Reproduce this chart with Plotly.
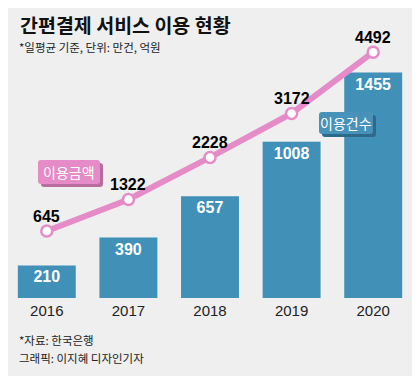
import plotly.graph_objects as go

years = ['2016', '2017', '2018', '2019', '2020']
counts = [210, 390, 657, 1008, 1455]        # 이용건수 (만건)
amounts = [645, 1322, 2228, 3172, 4492]     # 이용금액 (억원)

W, H = 420, 376
OFF = 8                      # page offset observed in the renderer
ML, MR, MT, MB = 0, 14, 40 - OFF, 78 + OFF
PW, PH = W - ML - MR, H - MT - MB
CAT = 81.6                   # pixel width of one category
X0 = 46.8 - OFF              # pixel centre of the first category inside the plot area

BAR = '#4090b8'
PINK = '#e58bc8'
BG = '#efefef'
NUM_FONT = 'Liberation Sans Narrow, Liberation Sans, Arial, sans-serif'
KR_FONT = 'Noto Sans CJK KR, Noto Sans, sans-serif'


def px(x):
    return (x - OFF - ML) / PW


def py(y):
    return (H - MB - (y - OFF)) / PH


def rrect(x0, y0, x1, y1, r):
    X = lambda v: px(v)
    Y = lambda v: py(v)
    return (f"M {X(x0+r)},{Y(y0)} L {X(x1-r)},{Y(y0)} Q {X(x1)},{Y(y0)} {X(x1)},{Y(y0+r)} "
            f"L {X(x1)},{Y(y1-r)} Q {X(x1)},{Y(y1)} {X(x1-r)},{Y(y1)} "
            f"L {X(x0+r)},{Y(y1)} Q {X(x0)},{Y(y1)} {X(x0)},{Y(y1-r)} "
            f"L {X(x0)},{Y(y0+r)} Q {X(x0)},{Y(y0)} {X(x0+r)},{Y(y0)} Z")


fig = go.Figure()
fig.add_trace(go.Bar(
    x=years, y=counts, marker=dict(color=BAR, line=dict(width=0)),
    text=[str(v) for v in counts], textposition='inside', insidetextanchor='end',
    textangle=0,
    textfont=dict(color='white', size=16, family=NUM_FONT, weight='bold'),
    hoverinfo='skip', cliponaxis=False,
))
fig.add_trace(go.Scatter(
    x=years, y=amounts, yaxis='y2', mode='lines+markers',
    line=dict(color=PINK, width=6),
    marker=dict(size=11, color='white', line=dict(color=PINK, width=2.5)),
    hoverinfo='skip', cliponaxis=False,
))

shapes = [
    dict(type='path', xref='paper', yref='paper', path=rrect(41, 163, 103, 187, 3),
         fillcolor='#b86c9f', line=dict(width=0), layer='above'),
    dict(type='path', xref='paper', yref='paper', path=rrect(38, 160, 100, 184, 3),
         fillcolor=PINK, line=dict(width=0), layer='above'),
    dict(type='path', xref='paper', yref='paper', path=rrect(322, 115, 376, 137, 3),
         fillcolor='#2d6a8a', line=dict(width=0), layer='above'),
    dict(type='path', xref='paper', yref='paper', path=rrect(319, 112, 373, 134, 3),
         fillcolor='#4892ba', line=dict(width=0), layer='above'),
]

annotations = [
    dict(text='<b>간편결제 서비스 이용 현황</b>', x=px(18), y=py(25), xref='paper', yref='paper',
         xanchor='left', yanchor='middle', showarrow=False,
         font=dict(size=19.5, color='#111', family=KR_FONT)),
    dict(text='*일평균 기준, 단위: 만건, 억원', x=px(17), y=py(47), xref='paper', yref='paper',
         xanchor='left', yanchor='middle', showarrow=False,
         font=dict(size=11.5, color='#222', family=KR_FONT)),
    dict(text='*자료: 한국은행', x=px(17), y=py(340), xref='paper', yref='paper',
         xanchor='left', yanchor='middle', showarrow=False,
         font=dict(size=11.5, color='#222', family=KR_FONT)),
    dict(text='그래픽: 이지혜 디자인기자', x=px(17), y=py(358), xref='paper', yref='paper',
         xanchor='left', yanchor='middle', showarrow=False,
         font=dict(size=11.5, color='#222', family=KR_FONT)),
    dict(text='이용금액', x=px(69), y=py(172), xref='paper', yref='paper',
         xanchor='center', yanchor='middle', showarrow=False,
         font=dict(size=14, color='white', family=KR_FONT)),
    dict(text='이용건수', x=px(346), y=py(123), xref='paper', yref='paper',
         xanchor='center', yanchor='middle', showarrow=False,
         font=dict(size=14, color='white', family=KR_FONT)),
]
for i, v in enumerate(amounts):
    annotations.append(dict(
        text=f'<b>{v}</b>', x=i, y=v, xref='x', yref='y2', xanchor='center', yanchor='middle',
        yshift=15, showarrow=False, font=dict(size=16, color='black', family=NUM_FONT)))

x_lo = -X0 / CAT
x_hi = x_lo + PW / CAT

fig.update_layout(
    width=W, height=H, margin=dict(l=ML, r=MR, t=MT, b=MB),
    paper_bgcolor=BG, plot_bgcolor=BG, showlegend=False, bargap=0.29,
    xaxis=dict(type='category', range=[x_lo, x_hi], showgrid=False, zeroline=False,
               showline=False, ticks='', ticklabelstandoff=2,
               tickfont=dict(size=15, color='#222', family='Liberation Sans, Arial, sans-serif'),
               fixedrange=True),
    yaxis=dict(range=[0, 1665], visible=False, fixedrange=True),
    yaxis2=dict(range=[-796, 4753], overlaying='y', visible=False, fixedrange=True),
    shapes=shapes, annotations=annotations,
)

fig.write_html('out.html', config=dict(displayModeBar=False))
